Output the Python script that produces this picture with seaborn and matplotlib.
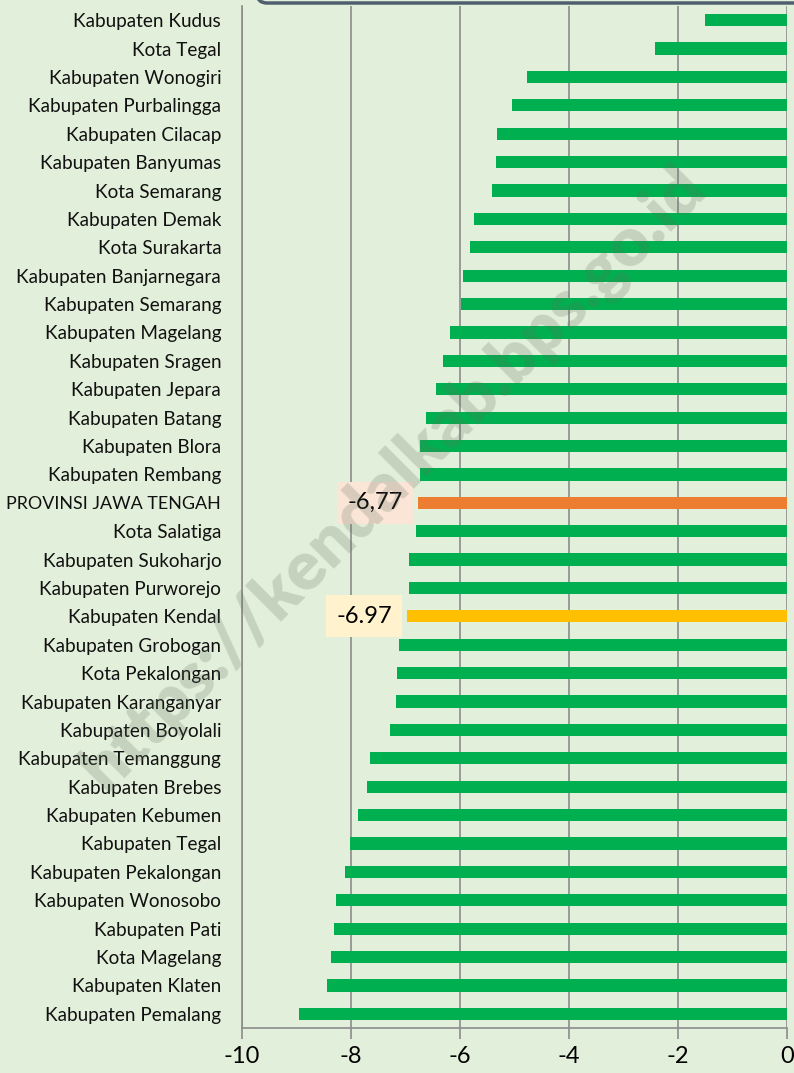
import matplotlib
matplotlib.use("Agg")
import matplotlib.pyplot as plt
from matplotlib.patches import FancyBboxPatch
import seaborn as sns
import pandas as pd

regions = [
    "Kabupaten Kudus", "Kota Tegal", "Kabupaten Wonogiri", "Kabupaten Purbalingga",
    "Kabupaten Cilacap", "Kabupaten Banyumas", "Kota Semarang", "Kabupaten Demak",
    "Kota Surakarta", "Kabupaten Banjarnegara", "Kabupaten Semarang", "Kabupaten Magelang",
    "Kabupaten Sragen", "Kabupaten Jepara", "Kabupaten Batang", "Kabupaten Blora",
    "Kabupaten Rembang", "PROVINSI JAWA TENGAH", "Kota Salatiga", "Kabupaten Sukoharjo",
    "Kabupaten Purworejo", "Kabupaten Kendal", "Kabupaten Grobogan", "Kota Pekalongan",
    "Kabupaten Karanganyar", "Kabupaten Boyolali", "Kabupaten Temanggung", "Kabupaten Brebes",
    "Kabupaten Kebumen", "Kabupaten Tegal", "Kabupaten Pekalongan", "Kabupaten Wonosobo",
    "Kabupaten Pati", "Kota Magelang", "Kabupaten Klaten", "Kabupaten Pemalang",
]
values = [
    -1.50, -2.42, -4.77, -5.05,
    -5.32, -5.34, -5.42, -5.75,
    -5.82, -5.95, -5.99, -6.18,
    -6.32, -6.44, -6.63, -6.74,
    -6.74, -6.77, -6.80, -6.93,
    -6.93, -6.97, -7.12, -7.15,
    -7.18, -7.28, -7.65, -7.71,
    -7.87, -8.01, -8.11, -8.28,
    -8.32, -8.36, -8.44, -8.95,
]
labels = {"PROVINSI JAWA TENGAH": "-6,77", "Kabupaten Kendal": "-6.97"}

GREEN = "#00B050"
ORANGE = "#ED7D31"
YELLOW = "#FFC000"
BG = "#E2EFDA"

colors = {r: GREEN for r in regions}
colors["PROVINSI JAWA TENGAH"] = ORANGE
colors["Kabupaten Kendal"] = YELLOW
label_bg = {"PROVINSI JAWA TENGAH": "#FBE5D6", "Kabupaten Kendal": "#FFF2CC"}

df = pd.DataFrame({"region": regions, "value": values})

sns.set_theme(style="white")
plt.rcParams["font.family"] = ["Lato", "DejaVu Sans"]
plt.rcParams["axes.unicode_minus"] = False

fig = plt.figure(figsize=(7.94, 10.73), dpi=100, facecolor=BG)
ax = fig.add_axes([242 / 794, 1 - 1028 / 1073, 545 / 794, 1022 / 1073])
ax.set_facecolor(BG)

sns.barplot(data=df, x="value", y="region", hue="region", palette=colors,
            orient="h", width=0.43, legend=False, saturation=1, linewidth=0, ax=ax)

ax.set_xlim(-10, 0)
ax.set_ylim(len(regions) - 0.5, -0.5)
ax.set_xticks(range(-10, 1, 2))
ax.set_xlabel("")
ax.set_ylabel("")
ax.xaxis.grid(True, color="#8c8c8c", linewidth=1.2)
ax.set_axisbelow(True)
for side in ["top", "right"]:
    ax.spines[side].set_visible(False)
for side in ["left", "bottom"]:
    ax.spines[side].set_color("#8c8c8c")
    ax.spines[side].set_linewidth(1.2)
ax.tick_params(axis="x", bottom=True, length=8, color="#8c8c8c", width=1.2,
               labelsize=17, pad=5, labelcolor="black")
ax.tick_params(axis="y", left=False, labelsize=13.6, pad=9, labelcolor="#111111")
for t in ax.get_yticklabels():
    if t.get_text().isupper():
        t.set_fontsize(12.9)

for i, r in enumerate(regions):
    if r in labels:
        ax.annotate(labels[r], xy=(values[i], i), xytext=(-11, 0),
                    textcoords="offset points", ha="right", va="center",
                    fontsize=17, color="black",
                    bbox=dict(boxstyle="square,pad=0.45", fc=label_bg[r], ec="none"))

# watermark
fig.text(393 / 794, 1 - 478 / 1073, "https://kendalkab.bps.go.id", rotation=45,
         ha="center", va="center", fontsize=49, fontweight="heavy",
         color="#5f6f5a", alpha=0.22)

# bottom edge of the title box cut off above the picture
fig.patches.append(FancyBboxPatch((257, 1073 - 3), 600, 60,
                                  boxstyle="round,pad=0,rounding_size=10",
                                  transform=None, fc=BG, ec="#4f5f6e", lw=2.5))

fig.savefig("out.png", dpi=100, facecolor=BG)
